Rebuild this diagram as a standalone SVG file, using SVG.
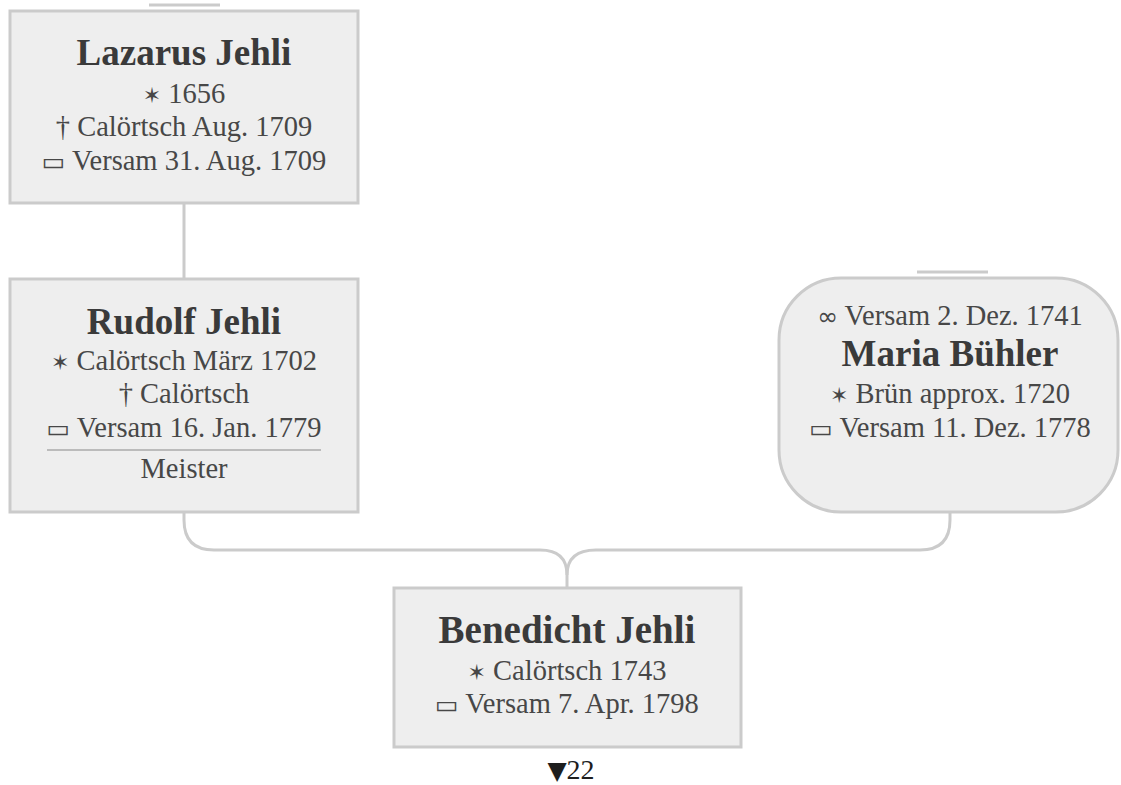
<svg xmlns="http://www.w3.org/2000/svg" width="1121" height="785" viewBox="0 0 1121 785">
<style>
.box{fill:#eeeeee;stroke:#cbcbcb;stroke-width:3}
.conn{fill:none;stroke:#cbcbcb;stroke-width:3}
.t{font-family:"Liberation Serif","DejaVu Serif",serif;fill:#474747;text-anchor:middle}
.n{font-size:37px;font-weight:bold;fill:#3a3a3a}
.d{font-size:28.5px}
.sym{font-family:"DejaVu Sans",sans-serif;font-size:25px}
.star{font-family:"DejaVu Sans",sans-serif;font-size:22px}
</style>
<rect width="1121" height="785" fill="#ffffff"/>
<g id="connectors">
<line class="conn" x1="149" y1="5" x2="220" y2="5"/>
<line class="conn" x1="917" y1="272" x2="988" y2="272"/>
<line class="conn" x1="184" y1="203" x2="184" y2="279"/>
<path class="conn" d="M184 512 L184 520 Q184 550 214 550 L540 550 Q567 550 567 575 L567 588"/>
<path class="conn" d="M950 512 L950 520 Q950 550 920 550 L596 550 Q567 550 567 575"/>
</g>
<g id="lazarus">
<rect class="box" x="10" y="11" width="348" height="192"/>
<text class="t n" x="184" y="65">Lazarus Jehli</text>
<text class="t d" x="184" y="103"><tspan class="star">✶</tspan> 1656</text>
<text class="t d" x="184" y="136">† Calörtsch Aug. 1709</text>
<text class="t d" x="184" y="170"><tspan class="sym">▭</tspan> Versam 31. Aug. 1709</text>
</g>
<g id="rudolf">
<rect class="box" x="10" y="279" width="348" height="233"/>
<text class="t n" x="184" y="334">Rudolf Jehli</text>
<text class="t d" x="184" y="370"><tspan class="star">✶</tspan> Calörtsch März 1702</text>
<text class="t d" x="184" y="403">† Calörtsch</text>
<text class="t d" x="184" y="437"><tspan class="sym">▭</tspan> Versam 16. Jan. 1779</text>
<line x1="47" y1="450" x2="321" y2="450" stroke="#aaaaaa" stroke-width="1.5"/>
<text class="t d" x="184" y="478">Meister</text>
</g>
<g id="maria">
<rect class="box" x="779" y="278" width="339" height="234" rx="62" ry="62"/>
<text class="t d" x="950" y="325"><tspan class="sym">∞</tspan> Versam 2. Dez. 1741</text>
<text class="t n" x="950" y="366">Maria Bühler</text>
<text class="t d" x="950" y="403"><tspan class="star">✶</tspan> Brün approx. 1720</text>
<text class="t d" x="950" y="437"><tspan class="sym">▭</tspan> Versam 11. Dez. 1778</text>
</g>
<g id="benedicht">
<rect class="box" x="394" y="588" width="347" height="159"/>
<text class="t n" x="567" y="643" style="font-size:39px">Benedicht Jehli</text>
<text class="t d" x="567" y="680"><tspan class="star">✶</tspan> Calörtsch 1743</text>
<text class="t d" x="567" y="713"><tspan class="sym">▭</tspan> Versam 7. Apr. 1798</text>
</g>
<text class="t" x="571" y="779" style="fill:#1e1e1e;font-size:28px"><tspan style="font-family:'DejaVu Sans',sans-serif;font-size:25px">▼</tspan>22</text>
</svg>
